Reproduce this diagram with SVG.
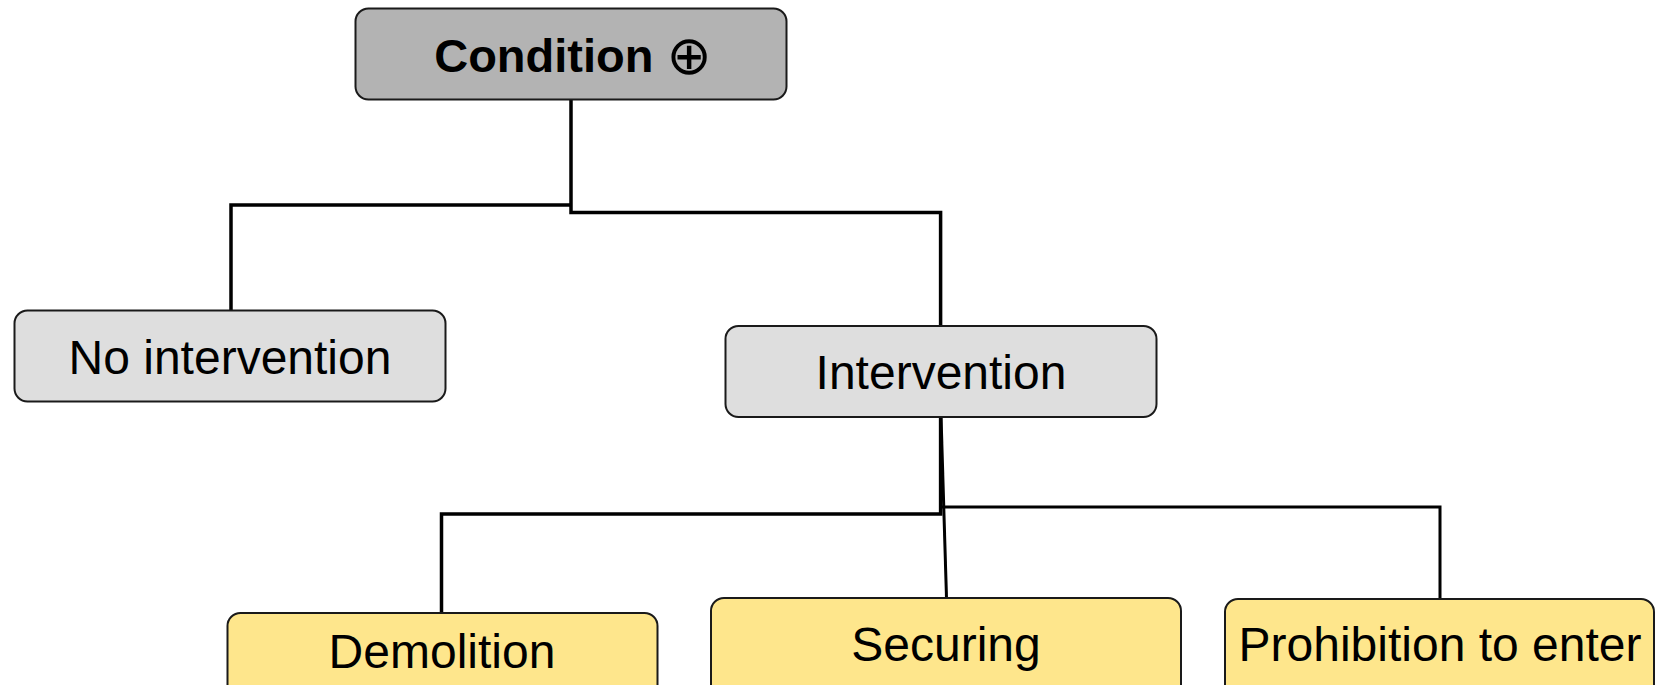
<svg xmlns="http://www.w3.org/2000/svg" width="1659" height="685" viewBox="0 0 1659 685">
<style>
.box{stroke:#1a1a1a;stroke-width:2}
.root{fill:#b3b3b3}
.mid{fill:#dedede}
.leaf{fill:#fee68c}
.lbl{font-family:"Liberation Sans",Arial,sans-serif;font-size:48px;fill:#000;text-anchor:middle}
.bold{font-weight:bold;font-size:47px}
.c{fill:none;stroke:#000;stroke-linejoin:miter}
</style>
<rect width="1659" height="685" fill="#fff"/>
<g id="connectors">
<path class="c" stroke-width="3.5" d="M571,99 V212.5 H940.6 V326"/>
<path class="c" stroke-width="3.5" d="M571,205 H231 V310"/>
<path class="c" stroke-width="3.5" d="M940.6,416 V514 H441.5 V613"/>
<path class="c" stroke-width="3" d="M941,507 H1440 V599"/>
<path class="c" stroke-width="3" d="M941,416 L946.5,598"/>
</g>
<g id="condition">
<rect class="box root" x="355.5" y="8.5" width="431" height="91" rx="13"/>
<text class="lbl bold" x="573" y="72">Condition <tspan font-family="'DejaVu Sans',sans-serif" font-weight="normal" font-size="54" dy="2">⊕</tspan></text>
</g>
<g id="no-intervention">
<rect class="box mid" x="14.5" y="310.5" width="431" height="91" rx="13"/>
<text class="lbl" x="230" y="374">No intervention</text>
</g>
<g id="intervention">
<rect class="box mid" x="725.5" y="326" width="431" height="91" rx="13"/>
<text class="lbl" x="941" y="389">Intervention</text>
</g>
<g id="demolition">
<rect class="box leaf" x="227.5" y="613" width="430" height="91" rx="13"/>
<text class="lbl" x="442" y="668">Demolition</text>
</g>
<g id="securing">
<rect class="box leaf" x="711" y="598" width="470" height="100" rx="13"/>
<text class="lbl" x="946" y="661">Securing</text>
</g>
<g id="prohibition">
<rect class="box leaf" x="1225" y="599" width="429" height="100" rx="13"/>
<text class="lbl" x="1440" y="661">Prohibition to enter</text>
</g>
</svg>
